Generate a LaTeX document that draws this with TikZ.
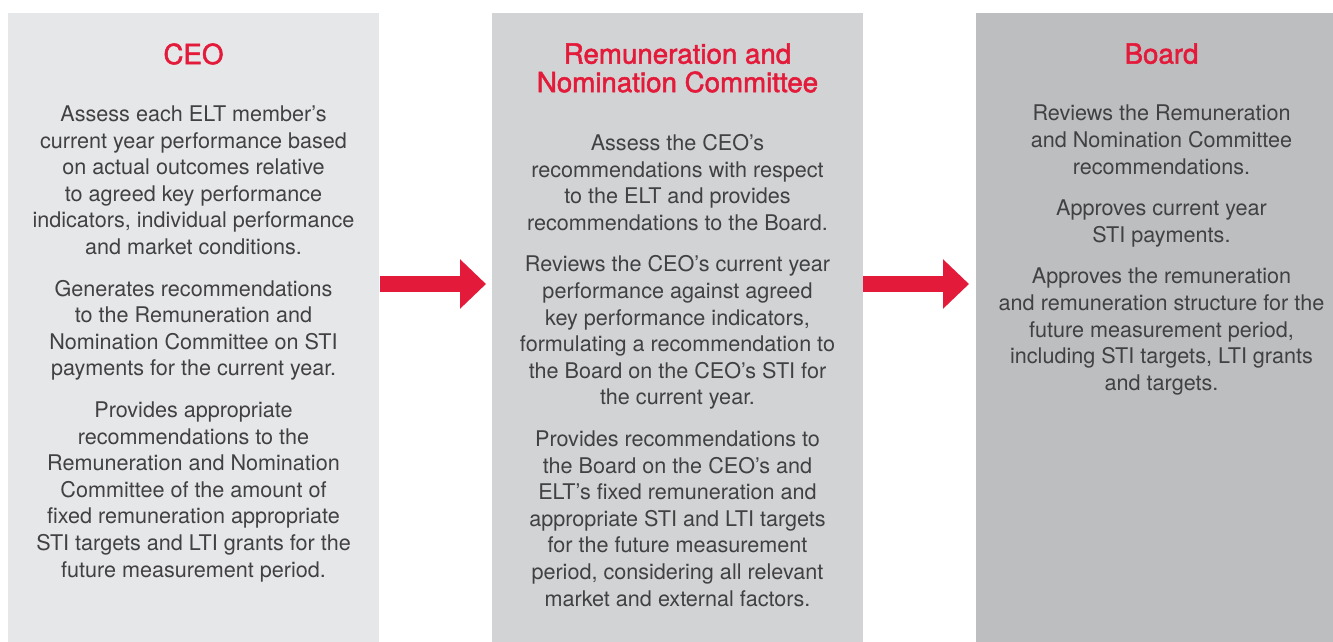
\documentclass[tikz,border=0pt]{standalone}
\usepackage{fontspec}
\setmainfont{TeX Gyre Heros}
\newfontfamily\headfont[FakeBold=1.8]{TeX Gyre Heros}
\usetikzlibrary{arrows.meta}

\definecolor{ceogray}{HTML}{E6E7E8}
\definecolor{remgray}{HTML}{D1D3D4}
\definecolor{boardgray}{HTML}{BCBEC0}
\definecolor{headred}{HTML}{E41A3A}
\definecolor{bodytext}{HTML}{414042}

\tikzset{
  panel/.style={rectangle, anchor=north west, minimum width=371pt, minimum height=640pt, inner sep=0pt, outer sep=0pt},
  heading/.style={anchor=north, align=center, inner sep=0pt, text=headred, font=\headfont\fontsize{27.7}{28.5}\selectfont},
  body/.style={anchor=north, align=center, inner sep=0pt, text=bodytext, font=\fontsize{21.6}{26.6}\selectfont},
  flow/.style={draw=headred, line width=16pt, -{Triangle[length=26pt,width=48pt]}}
}

\begin{document}
\begin{tikzpicture}[x=1pt,y=-1pt]

\clip (0,0) rectangle (1333,641);

% PANELS %%%%%%%%%%%%%%%%%%%%%%%%%%%%%%%%%%%%%%%%%%%%%%%%%%%%%%%%%%%%%%%%%

\node[panel, fill=ceogray] (ceoBox) at (8,13) {};
\node[panel, fill=remgray] (remBox) at (492,13) {};
\node[panel, fill=boardgray] (boardBox) at (976,13) {};

% HEADINGS %%%%%%%%%%%%%%%%%%%%%%%%%%%%%%%%%%%%%%%%%%%%%%%%%%%%%%%%%%%%%%%

\node[heading] (ceoHead) at (193.5,43.2) {CEO};
\node[heading] (remHead) at (677.5,43.2) {Remuneration and\\Nomination Committee};
\node[heading] (boardHead) at (1161.5,43.2) {Board};

% TEXTS %%%%%%%%%%%%%%%%%%%%%%%%%%%%%%%%%%%%%%%%%%%%%%%%%%%%%%%%%%%%%%%%%%

\node[body] (ceoText) at (193.5,105.5) {Assess each ELT member’s\\current year performance based\\on actual outcomes relative\\to agreed key performance\\indicators, individual performance\\and market conditions.\\[15pt]
Generates recommendations\\to the Remuneration and\\Nomination Committee on STI\\payments for the current year.\\[15pt]
Provides appropriate\\recommendations to the\\Remuneration and Nomination\\Committee of the amount of\\fixed remuneration appropriate\\STI targets and LTI grants for the\\future measurement period.};

\node[body] (remText) at (677.5,134.2) {Assess the CEO’s\\recommendations with respect\\to the ELT and provides\\recommendations to the Board.\\[15pt]
Reviews the CEO’s current year\\performance against agreed\\key performance indicators,\\formulating a recommendation to\\the Board on the CEO’s STI for\\the current year.\\[15pt]
Provides recommendations to\\the Board on the CEO’s and\\ELT’s fixed remuneration and\\appropriate STI and LTI targets\\for the future measurement\\period, considering all relevant\\market and external factors.};

\node[body] (boardText) at (1161.5,105) {Reviews the Remuneration\\and Nomination Committee\\recommendations.\\[15pt]
Approves current year\\STI payments.\\[15pt]
Approves the remuneration\\and remuneration structure for the\\future measurement period,\\including STI targets, LTI grants\\and targets.};

% ARROWS %%%%%%%%%%%%%%%%%%%%%%%%%%%%%%%%%%%%%%%%%%%%%%%%%%%%%%%%%%%%%%%%%

\draw[flow, shorten <=1pt, shorten >=6pt] ([yshift=49pt]ceoBox.east) -- ([yshift=49pt]remBox.west);
\draw[flow, shorten >=7pt] ([yshift=49pt]remBox.east) -- ([yshift=49pt]boardBox.west);

\end{tikzpicture}
\end{document}
